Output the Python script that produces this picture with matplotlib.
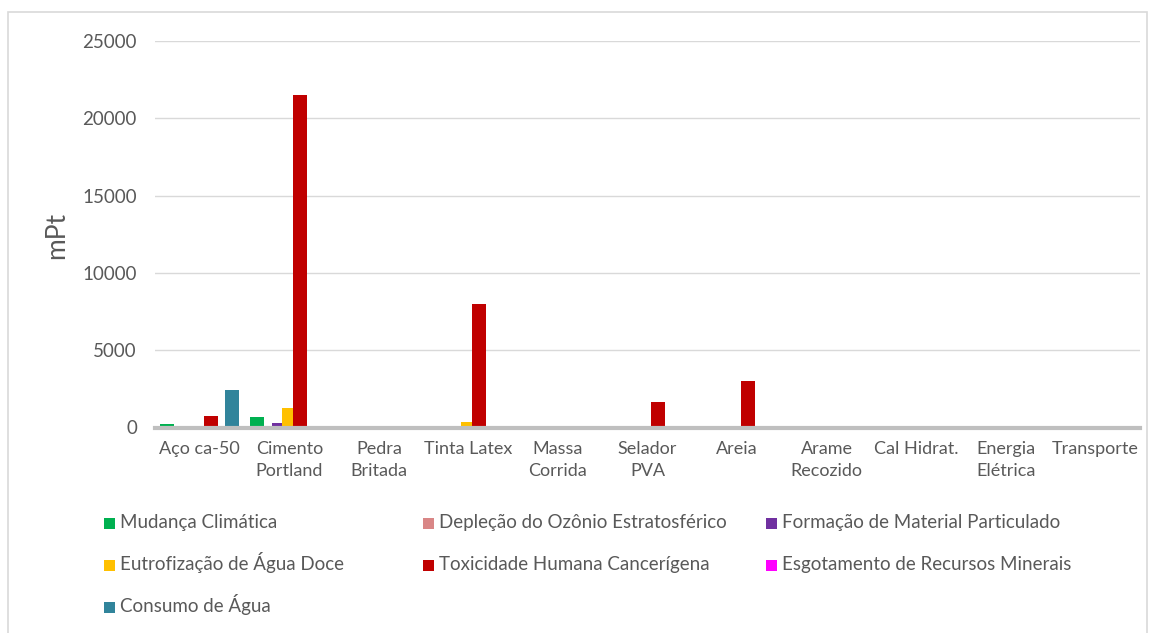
import matplotlib
matplotlib.use("Agg")
import matplotlib.pyplot as plt
import matplotlib.patches as mpatches
import numpy as np

plt.rcParams["font.family"] = ["Lato", "DejaVu Sans"]

# ---------------------------------------------------------------------------
# Data (mPt per material / impact category)
# ---------------------------------------------------------------------------
materiais = ["Aço ca-50", "Cimento\nPortland", "Pedra\nBritada", "Tinta Latex",
             "Massa\nCorrida", "Selador\nPVA", "Areia", "Arame\nRecozido",
             "Cal Hidrat.", "Energia\nElétrica", "Transporte"]

mudanca_climatica = [200, 690, 0, 0, 0, 0, 0, 0, 0, 0, 0]
deplecao_ozonio   = [0, 0, 0, 0, 0, 0, 0, 0, 0, 0, 0]
formacao_particul = [0, 320, 0, 0, 0, 0, 0, 0, 0, 0, 0]
eutrofizacao      = [0, 1270, 0, 380, 0, 0, 0, 0, 0, 0, 0]
toxicidade_cancer = [750, 21480, 0, 8000, 0, 1660, 3010, 0, 0, 0, 0]
esgotamento_min   = [0, 0, 0, 0, 0, 0, 0, 0, 0, 0, 0]
consumo_agua      = [2450, 0, 0, 0, 0, 0, 0, 0, 0, 0, 0]

series = [
    ("Mudança Climática", mudanca_climatica, "#00B050"),
    ("Depleção do Ozônio Estratosférico", deplecao_ozonio, "#D98686"),
    ("Formação de Material Particulado", formacao_particul, "#7030A0"),
    ("Eutrofização de Água Doce", eutrofizacao, "#FFC000"),
    ("Toxicidade Humana Cancerígena", toxicidade_cancer, "#C00000"),
    ("Esgotamento de Recursos Minerais", esgotamento_min, "#FF00FF"),
    ("Consumo de Água", consumo_agua, "#31849B"),
]

TXT = "#595959"
GRID = "#D9D9D9"

W, H = 1155, 633
fig = plt.figure(figsize=(W / 100, H / 100), dpi=100)
fig.patch.set_facecolor("white")

# outer chart frame
fig.patches.append(mpatches.Rectangle((8 / W, -0.02), (1147 - 8) / W, 1 - 12 / H + 0.02,
                                      transform=fig.transFigure, fill=False,
                                      edgecolor="#D9D9D9", linewidth=1.2))

ax = fig.add_axes([155 / W, 1 - 427.5 / H, (1140 - 155) / W, (427.5 - 41) / H])

# grouped (slightly overlapping) bars
x = np.arange(len(materiais))
step = 0.1207
bar_w = 0.156
n = len(series)
for i, (nome, vals, cor) in enumerate(series):
    ax.bar(x + (i - (n - 1) / 2) * step, vals, width=bar_w, color=cor,
           linewidth=0, zorder=3 + i)

ax.set_xlim(-0.5, len(materiais) - 0.5)
ax.set_ylim(0, 25000)
ax.set_yticks(np.arange(0, 25001, 5000))
ax.yaxis.grid(True, color=GRID, linewidth=1.0, zorder=0)
ax.set_axisbelow(True)
for s in ["top", "right", "left"]:
    ax.spines[s].set_visible(False)
ax.spines["bottom"].set_color("#BFBFBF")
ax.spines["bottom"].set_linewidth(3)
ax.spines["bottom"].set_zorder(20)

ax.set_xticks(x)
ax.set_xticklabels(materiais, fontsize=13, color=TXT, linespacing=1.45)
ax.tick_params(axis="x", length=0, pad=10)
ax.tick_params(axis="y", length=0, pad=13, labelsize=13.5, labelcolor=TXT)
ax.set_ylabel("mPt", fontsize=19, color=TXT)
ax.yaxis.set_label_coords((69 - 155) / (1140 - 155), (427.5 - 235) / (427.5 - 41))

# legend laid out in three columns, row by row
col_x = [104, 423, 766]
row_y = [523, 565, 607]
sq = 11
for k, (nome, vals, cor) in enumerate(series):
    cx = col_x[k % 3]
    cy = row_y[k // 3]
    fig.patches.append(mpatches.Rectangle((cx / W, 1 - (cy + sq / 2) / H), sq / W, sq / H,
                                          transform=fig.transFigure,
                                          facecolor=cor, edgecolor="none"))
    fig.text((cx + sq + 5) / W, 1 - (cy + 5) / H, nome, fontsize=13.5, color=TXT,
             ha="left", va="baseline")

fig.savefig("out.png", dpi=100, facecolor="white")
